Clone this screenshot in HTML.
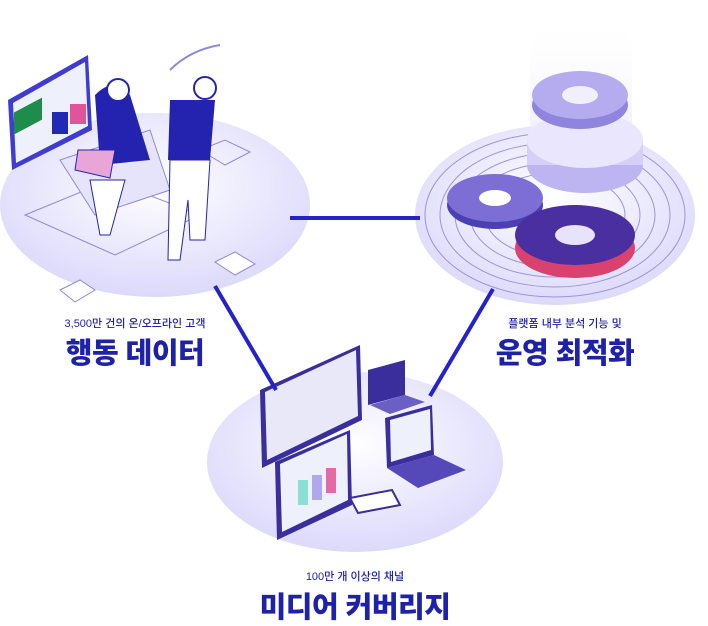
<!DOCTYPE html>
<html><head><meta charset="utf-8"><style>
html,body{margin:0;padding:0;background:#fff;}
body{width:708px;height:622px;position:relative;overflow:hidden;font-family:"Liberation Sans","Noto Sans CJK KR",sans-serif;}
.t{position:absolute;color:#1e22a8;text-align:center;white-space:nowrap;}
.s{font-size:11px;font-weight:500;}
.b{font-size:29px;font-weight:900;letter-spacing:-0.5px;}
</style></head><body>
<svg width="708" height="622" style="position:absolute;left:0;top:0">
<defs>
<radialGradient id="g1" cx="50%" cy="40%" r="60%"><stop offset="0" stop-color="#ffffff"/><stop offset="1" stop-color="#dcd9fb"/></radialGradient>
<linearGradient id="col" x1="0" y1="0" x2="0" y2="1"><stop offset="0" stop-color="#fff" stop-opacity="0"/><stop offset="1" stop-color="#e4e1fb"/></linearGradient>
</defs>
<!-- top-left platform -->
<ellipse cx="155" cy="205" rx="155" ry="92" fill="url(#g1)"/>
<g fill="none" stroke="#8f89d8" stroke-width="1">
<path d="M25 215 L110 180 L200 215 L115 255 Z"/>
<path d="M60 290 L80 280 L95 290 L75 302 Z" fill="#fff"/>
<path d="M200 150 L225 140 L250 152 L225 165 Z"/>
<path d="M215 262 L235 252 L255 264 L235 275 Z" fill="#fff"/>
</g>
<!-- monitor left -->
<path d="M8 100 L88 55 L92 130 L12 170 Z" fill="#3f3ccf"/>
<path d="M13 103 L85 62 L88 126 L16 163 Z" fill="#eef0fb"/>
<rect x="14" y="100" width="28" height="22" fill="#1e8c4a" transform="skewY(-28) translate(0,20)"/>
<rect x="52" y="112" width="16" height="22" fill="#2229b5"/><rect x="70" y="104" width="16" height="20" fill="#e0559a"/>
<!-- sofa & people -->
<path d="M60 160 L150 130 L170 190 L95 215 Z" fill="#e6e4fa" stroke="#8f89d8"/>
<path d="M95 95 Q115 75 130 95 L150 160 L100 165 Z" fill="#2423b0"/>
<circle cx="118" cy="90" r="11" fill="#fff" stroke="#2423b0" stroke-width="2"/>
<path d="M78 150 L115 150 L110 178 L75 170 Z" fill="#e8a6d8" stroke="#2423b0"/>
<path d="M90 180 L100 235 L110 235 L125 180 Z" fill="#fff" stroke="#2423b0"/>
<path d="M170 100 L215 100 L210 160 L168 160 Z" fill="#2423b0"/>
<circle cx="205" cy="88" r="11" fill="#fff" stroke="#2423b0" stroke-width="2"/>
<path d="M170 160 L210 160 L205 240 L190 240 L188 200 L180 260 L168 260 Z" fill="#fff" stroke="#2423b0"/>
<path d="M170 70 Q190 50 220 45" stroke="#8f89d8" stroke-width="2" fill="none"/>
<!-- top-right platform -->
<ellipse cx="555" cy="215" rx="140" ry="90" fill="url(#g1)"/>
<g fill="none" stroke="#9a95dd" stroke-width="1">
<ellipse cx="555" cy="215" rx="130" ry="82"/><ellipse cx="555" cy="215" rx="115" ry="72"/><ellipse cx="555" cy="215" rx="100" ry="62"/><ellipse cx="555" cy="215" rx="85" ry="52"/><ellipse cx="555" cy="215" rx="70" ry="42"/>
</g>
<rect x="530" y="15" width="102" height="160" rx="40" fill="url(#col)"/>
<ellipse cx="585" cy="165" rx="58" ry="28" fill="#bdb5f2"/>
<rect x="527" y="140" width="116" height="25" fill="#d6d0f8"/>
<ellipse cx="585" cy="140" rx="58" ry="28" fill="#e9e6fd"/>
<ellipse cx="580" cy="105" rx="48" ry="24" fill="#8f85de"/>
<ellipse cx="580" cy="95" rx="48" ry="24" fill="#b5acef"/>
<ellipse cx="580" cy="95" rx="18" ry="9" fill="#f1effd"/>
<ellipse cx="495" cy="205" rx="48" ry="24" fill="#4c3fb3"/>
<ellipse cx="495" cy="198" rx="48" ry="24" fill="#7c6ed4"/>
<ellipse cx="495" cy="198" rx="16" ry="8" fill="#fff"/>
<ellipse cx="575" cy="248" rx="60" ry="30" fill="#d9426f"/>
<ellipse cx="575" cy="235" rx="60" ry="30" fill="#4a2fa0"/>
<ellipse cx="575" cy="235" rx="20" ry="10" fill="#e7e3fb"/>
<!-- bottom platform -->
<ellipse cx="355" cy="462" rx="148" ry="90" fill="url(#g1)"/>
<path d="M260 390 L360 345 L362 420 L262 468 Z" fill="#3a2e9c"/>
<path d="M265 392 L356 350 L358 416 L267 460 Z" fill="#e9e8f8"/>
<path d="M275 462 L350 430 L352 505 L277 540 Z" fill="#3a2e9c"/>
<path d="M280 464 L347 434 L348 500 L282 532 Z" fill="#eef0fb"/>
<rect x="298" y="480" width="10" height="25" fill="#8be0d6"/><rect x="312" y="475" width="10" height="25" fill="#b0a8ea"/><rect x="326" y="468" width="10" height="25" fill="#e36aa3"/>
<path d="M368 370 L405 360 L405 395 L368 405 Z" fill="#3a2e9c"/>
<path d="M370 405 L405 395 L425 402 L390 414 Z" fill="#6a5fc4"/>
<path d="M385 418 L432 405 L434 455 L387 468 Z" fill="#3a2e9c"/>
<path d="M390 420 L430 409 L431 450 L391 462 Z" fill="#eef0fb"/>
<path d="M387 468 L434 455 L466 470 L418 488 Z" fill="#5548b8"/>
<path d="M350 498 L392 490 L400 505 L358 513 Z" fill="#fff" stroke="#3a2e9c" stroke-width="2"/>
<!-- connectors -->
<g stroke="#2523c8" stroke-width="4" fill="none">
<line x1="290" y1="218" x2="420" y2="218"/>
<line x1="215" y1="286" x2="276" y2="390"/>
<line x1="493" y1="289" x2="430" y2="396"/>
</g>
</svg>
<div class="t s" style="left:35px;width:200px;top:315px">3,500만 건의 온/오프라인 고객</div>
<div class="t b" style="left:35px;width:200px;top:330px">행동 데이터</div>
<div class="t s" style="left:465px;width:200px;top:315px">플랫폼 내부 분석 기능 및</div>
<div class="t b" style="left:465px;width:200px;top:330px">운영 최적화</div>
<div class="t s" style="left:255px;width:200px;top:568px">100만 개 이상의 채널</div>
<div class="t b" style="left:225px;width:260px;top:584px">미디어 커버리지</div>
</body></html>
